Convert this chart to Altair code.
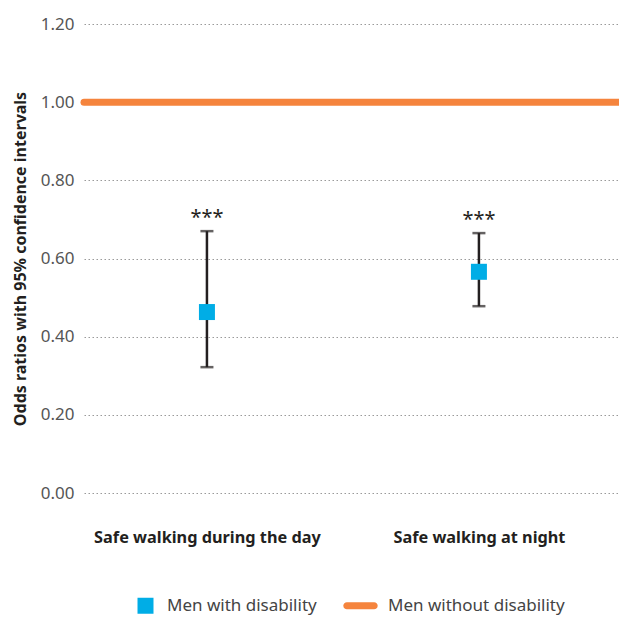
import json
import altair as alt
import pandas as pd

categories = ["Safe walking during the day", "Safe walking at night"]
odds = [0.463, 0.566]
lower = [0.322, 0.478]
upper = [0.670, 0.665]
stars = ["***", "***"]
series = ["Men with disability", "Men without disability"]
reference_value = 1.0
y_ticks = [0.0, 0.2, 0.4, 0.6, 0.8, 1.0, 1.2]

BLUE = "#00ade6"
ORANGE = "#f5843d"
DARK = "#231f20"
FONT = "Noto Sans"

df = pd.DataFrame({
    "pos": list(range(len(categories))),
    "cat": categories,
    "odds": odds,
    "lower": lower,
    "upper": upper,
    "sig": stars,
    "series": [series[0]] * len(categories),
})
ref = pd.DataFrame({"y": [reference_value]})

sq_path = "M-1,-1H1V1H-1Z"
line_path = "M-2.45,-0.45H0.95A0.45,0.45 0 0 1 0.95,0.45H-2.45A0.45,0.45 0 0 1 -2.45,-0.45Z"

x_enc = alt.X(
    "pos:Q",
    scale=alt.Scale(domain=[-0.452, 1.515], nice=False, zero=False),
    axis=alt.Axis(title=None, values=list(range(len(categories))),
                  labelExpr=f"{json.dumps(categories)}[datum.value]",
                  labelFont=FONT, labelFontSize=16.3, labelFontWeight="bold",
                  labelColor="#231f20", labelPadding=36, ticks=False, domain=False,
                  grid=False, labelAngle=0, labelLimit=0, labelFlush=False,
                  labelOverlap=False),
)
y_scale = alt.Scale(domain=[0, 1.2], nice=False, zero=True)

base = alt.Chart(df)

bars = base.mark_errorbar(ticks=True, size=13, thickness=2.5, color=DARK).encode(
    x=x_enc,
    y=alt.Y("lower:Q", scale=y_scale,
            axis=alt.Axis(values=y_ticks, format=".2f",
                          title="Odds ratios with 95% confidence intervals",
                          titleFont=FONT, titleFontSize=16, titleFontWeight="bold",
                          titleColor="#231f20", titlePadding=12,
                          labelFont=FONT, labelFontSize=17, labelColor="#555555",
                          labelPadding=10, ticks=False, domain=False,
                          grid=True, gridColor="#9a9a9a", gridDash=[1.5, 2.5],
                          gridWidth=1.2)),
    y2="upper:Q",
)

legend_def = alt.Legend(title=None, orient="none", direction="horizontal",
                        legendX=53, legendY=573, symbolSize=256,
                        labelFont=FONT, labelFontSize=17, labelColor="#444444",
                        labelOffset=13, columnPadding=26, padding=0, labelLimit=0,
                        symbolStrokeWidth=0)

points = base.mark_point(filled=True, size=256, opacity=1).encode(
    x=x_enc,
    y=alt.Y("odds:Q", scale=y_scale),
    color=alt.Color("series:N", scale=alt.Scale(domain=series, range=[BLUE, ORANGE]),
                    legend=legend_def),
    shape=alt.Shape("series:N", scale=alt.Scale(domain=series, range=[sq_path, line_path]),
                    legend=legend_def),
)

text = base.mark_text(font=FONT, fontSize=20, color="#231f20", baseline="alphabetic",
                      dy=-7).encode(
    x=x_enc,
    y=alt.Y("upper:Q", scale=y_scale),
    text="sig:N",
)

rule = alt.Chart(ref).mark_rule(color=ORANGE, strokeWidth=7, strokeCap="round").encode(
    y=alt.Y("y:Q", scale=y_scale),
)

chart = alt.layer(rule, bars, points, text).properties(
    width=535, height=469,
    autosize=alt.AutoSizeParams(type="none"),
    padding={"left": 76, "top": 16, "right": 0, "bottom": 123},
).configure(background="white").configure_view(stroke=None)

chart.save("out.html", embed_options={"renderer": "svg", "actions": False})
